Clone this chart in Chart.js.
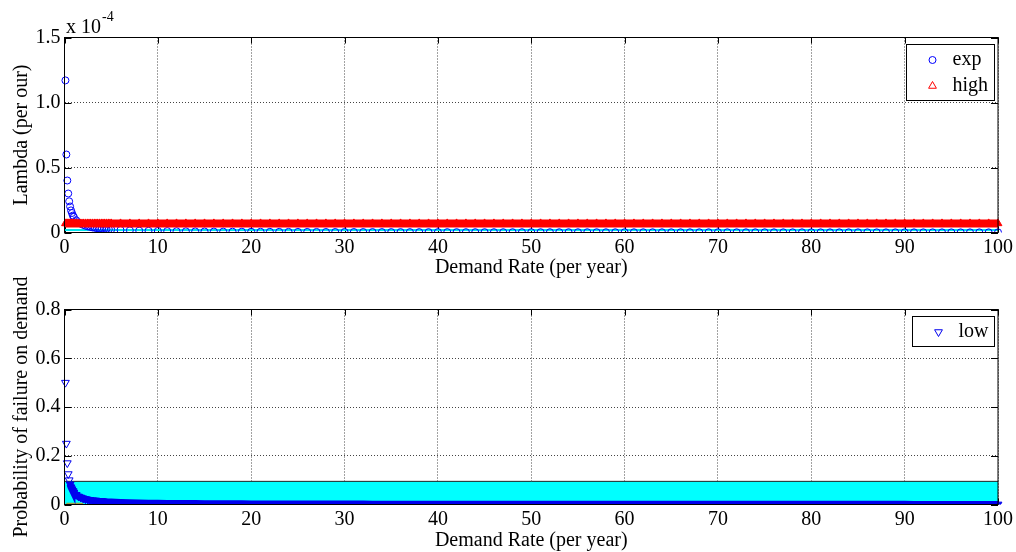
<!DOCTYPE html>
<html>
<head>
<meta charset="utf-8">
<script src="https://cdn.jsdelivr.net/npm/chart.js@4.4.0/dist/chart.umd.min.js"></script>
<style>
  body { margin: 0; background: #fff; width: 1016px; height: 552px; overflow: hidden; position: relative; }
  canvas { position: absolute; left: 0; }
  #Chart1 { top: 0; }
  #Chart2 { top: 276px; }
</style>
</head>
<body>
<canvas id="Chart1" width="1016" height="280"></canvas>
<canvas id="Chart2" width="1016" height="276"></canvas>
<script>
// demand rate (per year), shared by both plots
var demandRate = [
  0.1, 0.2, 0.3, 0.4, 0.5, 0.6, 0.7, 0.8, 0.9, 1,
  1.25, 1.5, 1.75, 2, 2.25, 2.5, 2.75, 3, 3.25, 3.5, 3.75, 4, 4.25, 4.5, 4.75, 5,
  6, 7, 8, 9, 10,
  11, 12, 13, 14, 15, 16, 17, 18, 19, 20,
  21, 22, 23, 24, 25, 26, 27, 28, 29, 30,
  31, 32, 33, 34, 35, 36, 37, 38, 39, 40,
  41, 42, 43, 44, 45, 46, 47, 48, 49, 50,
  51, 52, 53, 54, 55, 56, 57, 58, 59, 60,
  61, 62, 63, 64, 65, 66, 67, 68, 69, 70,
  71, 72, 73, 74, 75, 76, 77, 78, 79, 80,
  81, 82, 83, 84, 85, 86, 87, 88, 89, 90,
  91, 92, 93, 94, 95, 96, 97, 98, 99, 100
];

// lambda, in units of 10^-4 per hour
var expLambda = [
  1.17, 0.6, 0.4, 0.3, 0.24, 0.2, 0.17, 0.15, 0.13, 0.12,
  0.094, 0.078, 0.067, 0.059, 0.052, 0.047, 0.043, 0.039, 0.036, 0.033, 0.031, 0.029, 0.028, 0.026, 0.025, 0.023,
  0.0195, 0.0167, 0.0146, 0.013, 0.0117,
  0.0106, 0.0098, 0.009, 0.0084, 0.0078, 0.0073, 0.0069, 0.0065, 0.0062, 0.0059,
  0.0056, 0.0053, 0.0051, 0.0049, 0.0047, 0.0045, 0.0043, 0.0042, 0.004, 0.0039,
  0.0038, 0.0037, 0.0035, 0.0034, 0.0033, 0.0033, 0.0032, 0.0031, 0.003, 0.0029,
  0.0029, 0.0028, 0.0027, 0.0027, 0.0026, 0.0025, 0.0025, 0.0024, 0.0024, 0.0023,
  0.0023, 0.0023, 0.0022, 0.0022, 0.0021, 0.0021, 0.0021, 0.002, 0.002, 0.002,
  0.0019, 0.0019, 0.0019, 0.0018, 0.0018, 0.0018, 0.0017, 0.0017, 0.0017, 0.0017,
  0.0016, 0.0016, 0.0016, 0.0016, 0.0016, 0.0015, 0.0015, 0.0015, 0.0015, 0.0015,
  0.0014, 0.0014, 0.0014, 0.0014, 0.0014, 0.0014, 0.0013, 0.0013, 0.0013, 0.0013,
  0.0013, 0.0013, 0.0013, 0.0012, 0.0012, 0.0012, 0.0012, 0.0012, 0.0012, 0.0012
];

var highLambda = [
  0.07, 0.07, 0.07, 0.07, 0.07, 0.07, 0.07, 0.07, 0.07, 0.07,
  0.07, 0.07, 0.07, 0.07, 0.07, 0.07, 0.07, 0.07, 0.07, 0.07, 0.07, 0.07, 0.07, 0.07, 0.07, 0.07,
  0.07, 0.07, 0.07, 0.07, 0.07,
  0.07, 0.07, 0.07, 0.07, 0.07, 0.07, 0.07, 0.07, 0.07, 0.07,
  0.07, 0.07, 0.07, 0.07, 0.07, 0.07, 0.07, 0.07, 0.07, 0.07,
  0.07, 0.07, 0.07, 0.07, 0.07, 0.07, 0.07, 0.07, 0.07, 0.07,
  0.07, 0.07, 0.07, 0.07, 0.07, 0.07, 0.07, 0.07, 0.07, 0.07,
  0.07, 0.07, 0.07, 0.07, 0.07, 0.07, 0.07, 0.07, 0.07, 0.07,
  0.07, 0.07, 0.07, 0.07, 0.07, 0.07, 0.07, 0.07, 0.07, 0.07,
  0.07, 0.07, 0.07, 0.07, 0.07, 0.07, 0.07, 0.07, 0.07, 0.07,
  0.07, 0.07, 0.07, 0.07, 0.07, 0.07, 0.07, 0.07, 0.07, 0.07,
  0.07, 0.07, 0.07, 0.07, 0.07, 0.07, 0.07, 0.07, 0.07, 0.07
];

// thin cyan reference line under the top bands
var refX = [0, 100];
var refLambda = [0.02, 0.02];

// probability of failure on demand
var lowPfd = [
  0.5, 0.25, 0.17, 0.125, 0.1, 0.083, 0.071, 0.063, 0.056, 0.05,
  0.04, 0.033, 0.029, 0.025, 0.022, 0.02, 0.018, 0.017, 0.015, 0.014, 0.013, 0.0125, 0.012, 0.011, 0.0105, 0.01,
  0.0083, 0.0071, 0.0063, 0.0056, 0.005,
  0.0045, 0.0042, 0.0038, 0.0036, 0.0033, 0.0031, 0.0029, 0.0028, 0.0026, 0.0025,
  0.0024, 0.0023, 0.0022, 0.0021, 0.002, 0.0019, 0.0019, 0.0018, 0.0017, 0.0017,
  0.0016, 0.0016, 0.0015, 0.0015, 0.0014, 0.0014, 0.0014, 0.0013, 0.0013, 0.0013,
  0.0012, 0.0012, 0.0012, 0.0011, 0.0011, 0.0011, 0.0011, 0.001, 0.001, 0.001,
  0.001, 0.001, 0.0009, 0.0009, 0.0009, 0.0009, 0.0009, 0.0009, 0.0008, 0.0008,
  0.0008, 0.0008, 0.0008, 0.0008, 0.0008, 0.0008, 0.0007, 0.0007, 0.0007, 0.0007,
  0.0007, 0.0007, 0.0007, 0.0007, 0.0007, 0.0007, 0.0006, 0.0006, 0.0006, 0.0006,
  0.0006, 0.0006, 0.0006, 0.0006, 0.0006, 0.0006, 0.0006, 0.0006, 0.0006, 0.0006,
  0.0005, 0.0005, 0.0005, 0.0005, 0.0005, 0.0005, 0.0005, 0.0005, 0.0005, 0.0005
];

// cyan band (0 .. upper limit) and short olive line at the bottom
var bandX = [0, 100];
var bandPfd = [0.095, 0.095];
var oliveX = [0.2, 2];
var olivePfd = [0.003, 0.003];

function points(xs, ys) {
  return xs.map(function (x, i) { return { x: x, y: ys[i] }; });
}

Chart.defaults.font.family = '"Liberation Serif", "Times New Roman", serif';
Chart.defaults.font.size = 20;
Chart.defaults.color = '#000';

var noClipBottom = { left: 6, top: 6, right: 6, bottom: 0 };

// box round the axes, inward tick marks
var matlabBox = {
  id: 'matlabBox',
  beforeDatasetsDraw: function (chart) {
    var ctx = chart.ctx, a = chart.chartArea, xs = chart.scales.x, ys = chart.scales.y;
    ctx.save();
    ctx.strokeStyle = '#000';
    ctx.lineWidth = 1;
    ctx.beginPath();
    xs.ticks.forEach(function (t) {
      var px = Math.round(xs.getPixelForValue(t.value)) + 0.5;
      ctx.moveTo(px, a.bottom); ctx.lineTo(px, a.bottom - 6);
      ctx.moveTo(px, a.top); ctx.lineTo(px, a.top + 6);
    });
    ys.ticks.forEach(function (t) {
      var py = Math.round(ys.getPixelForValue(t.value)) + 0.5;
      ctx.moveTo(a.left, py); ctx.lineTo(a.left + 7, py);
      ctx.moveTo(a.right, py); ctx.lineTo(a.right - 7, py);
    });
    ctx.stroke();
    ctx.restore();
  },
  afterDatasetsDraw: function (chart) {
    var ctx = chart.ctx, a = chart.chartArea;
    ctx.save();
    ctx.strokeStyle = '#000';
    ctx.lineWidth = 1;
    ctx.strokeRect(a.left, a.top, a.right - a.left, a.bottom - a.top);
    ctx.restore();
  }
};

// legend box inside the top right corner
var boxLegend = {
  id: 'boxLegend',
  afterDraw: function (chart) {
    var items = chart.data.datasets.filter(function (d) { return d.label; });
    var ctx = chart.ctx, a = chart.chartArea;
    ctx.save();
    ctx.font = '20px "Liberation Serif", serif';
    var textW = Math.max.apply(null, items.map(function (d) { return ctx.measureText(d.label).width; }));
    var w = Math.round(46 + textW + 6), h = 30 + (items.length - 1) * 26;
    var left = Math.round(a.right - 4.5 - w) + 0.5, top = Math.round(a.top + 6) + 0.5;
    ctx.fillStyle = '#fff';
    ctx.fillRect(left, top, w, h);
    ctx.strokeStyle = '#000';
    ctx.lineWidth = 1;
    ctx.strokeRect(left, top, w, h);
    items.forEach(function (d, i) {
      var y = top + 15.5 + i * 26;
      ctx.fillStyle = 'rgba(0,0,0,0)';
      ctx.strokeStyle = d.borderColor;
      Chart.helpers.drawPoint(ctx, {
        pointStyle: d.pointStyle, radius: d.pointStyle === 'circle' ? 3.5 : 4.5,
        rotation: d.pointRotation || 0, borderWidth: 1
      }, left + 26, y);
      ctx.fillStyle = '#000';
      ctx.textBaseline = 'middle';
      ctx.textAlign = 'left';
      ctx.fillText(d.label, left + 46, y);
    });
    ctx.restore();
  }
};

// "x 10^-4" above the top y axis
var scaleNote = {
  id: 'scaleNote',
  afterDraw: function (chart) {
    var ctx = chart.ctx;
    ctx.save();
    ctx.fillStyle = '#000';
    ctx.textBaseline = 'alphabetic';
    ctx.font = '20px "Liberation Serif", serif';
    ctx.fillText('x 10', 66, 33);
    var w = ctx.measureText('x 10').width;
    ctx.font = '14px "Liberation Serif", serif';
    ctx.fillText('-4', 66 + w + 1, 21);
    ctx.restore();
  }
};

function xAxis(height, padBottom) {
  return {
    type: 'linear', min: 0, max: 100,
    ticks: { stepSize: 10, maxRotation: 0, autoSkip: false, padding: 3 },
    grid: { color: '#444', drawTicks: false },
    border: { display: false, dash: [1, 2] },
    title: { display: true, text: 'Demand Rate (per year)', padding: { top: 0, bottom: padBottom } },
    afterFit: function (s) { s.height = height; }
  };
}

function yAxis(max, step, label) {
  return {
    min: 0, max: max,
    ticks: { stepSize: step, padding: 4 },
    grid: { color: '#444', drawTicks: false },
    border: { display: false, dash: [1, 2] },
    title: { display: true, text: label, padding: { top: 10, bottom: 0 } },
    afterFit: function (s) { s.width = 64.5; }
  };
}

var ctx1 = document.getElementById('Chart1').getContext('2d');
var ctx2 = document.getElementById('Chart2').getContext('2d');

var Chart1 = new Chart(ctx1, {
  type: 'line',
  data: {
    labels: demandRate,
    datasets: [{
      label: 'exp',
      data: expLambda,
      showLine: false,
      pointStyle: 'circle',
      pointRadius: 3.5,
      pointBorderWidth: 1,
      borderColor: '#0000ff',
      pointBorderColor: '#0000ff',
      pointBackgroundColor: 'rgba(0,0,0,0)',
      clip: noClipBottom,
      order: 2
    }, {
      label: 'high',
      data: highLambda,
      showLine: true,
      borderWidth: 8,
      borderColor: '#ff0000',
      pointStyle: 'triangle',
      pointRadius: 4.5,
      pointBorderWidth: 1,
      pointBorderColor: '#ff0000',
      pointBackgroundColor: '#ff0000',
      clip: noClipBottom,
      order: 1
    }, {
      data: points(refX, refLambda),
      borderColor: '#00e5ee',
      borderWidth: 2,
      pointRadius: 0,
      clip: noClipBottom,
      order: 3
    }]
  },
  options: {
    responsive: false,
    animation: false,
    events: [],
    layout: { padding: { top: 37.5, right: 17.5, left: 0, bottom: 0 } },
    plugins: { legend: { display: false }, tooltip: { enabled: false } },
    scales: {
      x: xAxis(47.5, 0),
      y: yAxis(1.5, 0.5, 'Lambda (per our)')
    }
  },
  plugins: [matlabBox, boxLegend, scaleNote]
});

var Chart2 = new Chart(ctx2, {
  type: 'line',
  data: {
    labels: demandRate,
    datasets: [{
      label: 'low',
      data: lowPfd,
      showLine: true,
      borderWidth: 7,
      borderColor: '#0000ee',
      segment: {
        borderColor: function (c) { return c.p0.parsed.y > 0.09 ? 'rgba(0,0,0,0)' : undefined; }
      },
      pointStyle: 'triangle',
      pointRotation: 180,
      pointRadius: 4.5,
      pointBorderWidth: 1,
      pointBorderColor: '#0000ee',
      pointBackgroundColor: function (c) { return c.raw > 0.09 ? 'rgba(0,0,0,0)' : '#0000ee'; },
      clip: noClipBottom,
      order: 1
    }, {
      data: points(oliveX, olivePfd),
      borderColor: '#a0a040',
      borderWidth: 2,
      pointRadius: 0,
      order: 2
    }, {
      data: points(bandX, bandPfd),
      borderColor: '#222',
      borderWidth: 1,
      backgroundColor: '#00ffff',
      fill: 'origin',
      pointRadius: 0,
      order: 3
    }]
  },
  options: {
    responsive: false,
    animation: false,
    events: [],
    layout: { padding: { top: 33.5, right: 17.5, left: 0, bottom: 0 } },
    plugins: { legend: { display: false }, tooltip: { enabled: false } },
    scales: {
      x: xAxis(47.5, -1),
      y: yAxis(0.8, 0.2, 'Probability of failure on demand')
    }
  },
  plugins: [matlabBox, boxLegend]
});
</script>
</body>
</html>
